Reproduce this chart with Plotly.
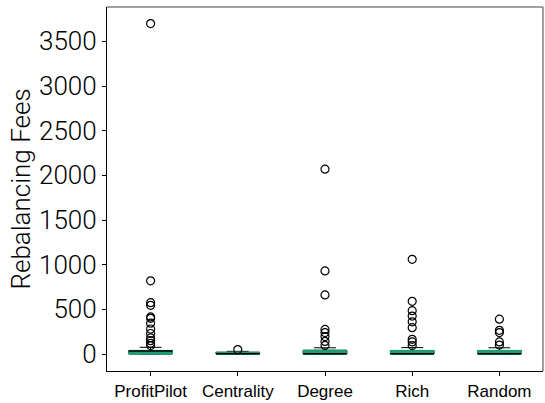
import plotly.graph_objects as go

# Strategies compared
categories = ["ProfitPilot", "Centrality", "Degree", "Rich", "Random"]

# Box summary statistics per strategy
q1 = [0, 0, 0, 0, 0]
median = [34, 2, 3, 3, 3]
q3 = [40, 20, 42, 40, 40]
lower_fence = [0, 0, 0, 0, 0]
upper_fence = [75, 30, 70, 72, 70]

# Outlying fee observations per strategy
outliers = {
    "ProfitPilot": [3700, 820, 575, 545, 415, 400, 345, 280, 230, 180, 150, 120, 95],
    "Centrality": [50],
    "Degree": [2070, 930, 662, 275, 240, 195, 141, 96],
    "Rich": [1060, 590, 485, 425, 360, 295, 165, 135, 95],
    "Random": [390, 265, 240, 135, 100],
}

y_ticks = [0, 500, 1000, 1500, 2000, 2500, 3000, 3500]
positions = list(range(len(categories)))

GREEN = "#1b9e77"
FONT = "Liberation Sans, Arial, sans-serif"
YFONT = "Roboto, Liberation Sans, sans-serif"
fig = go.Figure()

common = dict(x=positions, width=0.5, whiskerwidth=0.5, boxpoints=False,
              showlegend=False, hoverinfo="skip")

# whiskers and caps
fig.add_trace(go.Box(
    q1=q1, median=median, q3=q3,
    lowerfence=lower_fence, upperfence=upper_fence,
    fillcolor=GREEN, line=dict(color="black", width=1), **common,
))
# filled interquartile box
fig.add_trace(go.Box(
    q1=q1, median=median, q3=q3,
    lowerfence=q1, upperfence=q3,
    fillcolor=GREEN, line=dict(color=GREEN, width=1), **common,
))
# median bar
fig.add_trace(go.Box(
    q1=median, median=median, q3=median,
    lowerfence=median, upperfence=median,
    fillcolor="black", line=dict(color="black", width=1.5), **common,
))

ox, oy = [], []
for i, c in enumerate(categories):
    for v in outliers[c]:
        ox.append(i)
        oy.append(v)

fig.add_trace(go.Scatter(
    x=ox, y=oy, mode="markers",
    marker=dict(symbol="circle-open", size=8, color="black", line=dict(width=1.2)),
    showlegend=False,
    hoverinfo="skip",
))

# light frame on top and right
fig.add_shape(type="line", xref="paper", yref="paper", x0=0, x1=1, y0=1, y1=1,
              line=dict(color="#808080", width=1.5))
fig.add_shape(type="line", xref="paper", yref="paper", x0=1, x1=1, y0=0, y1=1,
              line=dict(color="#808080", width=1.5))

fig.update_layout(
    width=545, height=403,
    margin=dict(l=107, r=2, t=7, b=30),
    plot_bgcolor="white", paper_bgcolor="white",
    boxmode="overlay",
)
fig.update_xaxes(
    range=[-0.5, 4.5],
    tickmode="array", tickvals=positions, ticktext=categories,
    ticks="outside", ticklen=4, tickcolor="black",
    showline=True, linecolor="black", linewidth=1.2,
    showgrid=False, zeroline=False,
    tickfont=dict(family=FONT, size=17, color="black"),
)
fig.update_yaxes(
    range=[-190, 3885],
    tickmode="array", tickvals=y_ticks, ticktext=[str(t) for t in y_ticks],
    ticks="outside", ticklen=4, tickcolor="black",
    showline=True, linecolor="black", linewidth=1.2,
    showgrid=False, zeroline=False,
    tickfont=dict(family=YFONT, size=26, color="black", weight=300),
    title=dict(text="Rebalancing Fees", standoff=0,
               font=dict(family=YFONT, size=26, color="black", weight=300)),
)

fig.write_html("out.html")
